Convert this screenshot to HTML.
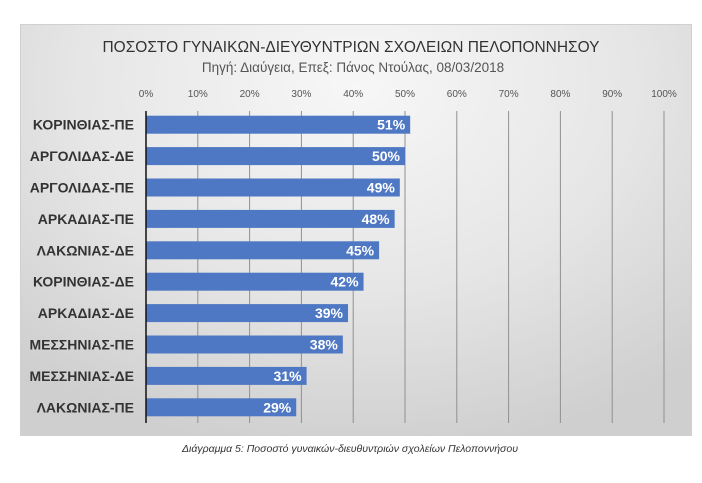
<!DOCTYPE html>
<html><head><meta charset="utf-8"><style>
body{margin:0;width:702px;height:483px;background:#fff;font-family:"Liberation Sans","DejaVu Sans",sans-serif;overflow:hidden}
#box{position:absolute;left:20px;top:24px;width:672px;height:412px;background:radial-gradient(ellipse 75% 90% at 50% 15%,#f7f7f7 0%,#e6e6e6 55%,#cfcfcf 100%);border:1px solid #d0d0d0;box-sizing:border-box}
svg{position:absolute;left:0;top:0}
</style></head><body>
<div id="box"></div>
<svg id="chart" width="702" height="483"></svg>
<script>
const categories=["ΚΟΡΙΝΘΙΑΣ-ΠΕ","ΑΡΓΟΛΙΔΑΣ-ΔΕ","ΑΡΓΟΛΙΔΑΣ-ΠΕ","ΑΡΚΑΔΙΑΣ-ΠΕ","ΛΑΚΩΝΙΑΣ-ΔΕ","ΚΟΡΙΝΘΙΑΣ-ΔΕ","ΑΡΚΑΔΙΑΣ-ΔΕ","ΜΕΣΣΗΝΙΑΣ-ΠΕ","ΜΕΣΣΗΝΙΑΣ-ΔΕ","ΛΑΚΩΝΙΑΣ-ΠΕ"];
const values=[51,50,49,48,45,42,39,38,31,29];
const ticks=[0,10,20,30,40,50,60,70,80,90,100];
const NS="http://www.w3.org/2000/svg";
const svg=document.getElementById('chart');
const X0=146,X1=664,Y0=109,ROW=31.4;
const x=v=>X0+(X1-X0)*v/100;
const yc=i=>Y0+ROW*(i+0.5);
function mk(t,a,txt){const e=document.createElementNS(NS,t);for(const k in a)e.setAttribute(k,a[k]);if(txt!=null)e.textContent=txt;svg.appendChild(e);return e;}
let e;
e=mk('text',{x:351,y:52,'text-anchor':'middle','font-size':15.5,fill:'#333','textLength':497,'lengthAdjust':'spacingAndGlyphs'},"ΠΟΣΟΣΤΟ ΓΥΝΑΙΚΩΝ-ΔΙΕΥΘΥΝΤΡΙΩΝ ΣΧΟΛΕΙΩΝ ΠΕΛΟΠΟΝΝΗΣΟΥ");


e=mk('text',{x:353,y:72,'text-anchor':'middle','font-size':13.5,fill:'#555'},"Πηγή: Διαύγεια, Επεξ: Πάνος Ντούλας, 08/03/2018");


ticks.forEach(t=>{
  if(t>0){e=mk('line',{x1:x(t),x2:x(t),y1:Y0+2,y2:Y0+ROW*categories.length,stroke:'#909090','stroke-width':1});
  
  }
  e=mk('text',{x:x(t),y:97,'text-anchor':'middle','font-size':10,fill:'#555'},t+'%');
  
  
});
categories.forEach((c,i)=>{
  e=mk('rect',{x:X0,y:yc(i)-9,width:x(values[i])-X0,height:18,fill:'#4f78c4'});
  
  
  e=mk('text',{x:x(values[i])-5,y:yc(i)+5,'text-anchor':'end','font-size':14,'font-weight':'bold',fill:'#fff'},values[i]+'%');
  
  
  e=mk('text',{x:134,y:yc(i)+5,'text-anchor':'end','font-size':14,'font-weight':'bold',fill:'#333'},c);
  
  
});
e=mk('line',{x1:X0,x2:X0,y1:Y0+2,y2:Y0+ROW*categories.length,stroke:'#111','stroke-width':1.5});


e=mk('text',{x:350,y:452,'text-anchor':'middle','font-size':10.5,'font-style':'italic',fill:'#333'},"Διάγραμμα 5: Ποσοστό γυναικών-διευθυντριών σχολείων Πελοποννήσου");


</script>
</body></html>
